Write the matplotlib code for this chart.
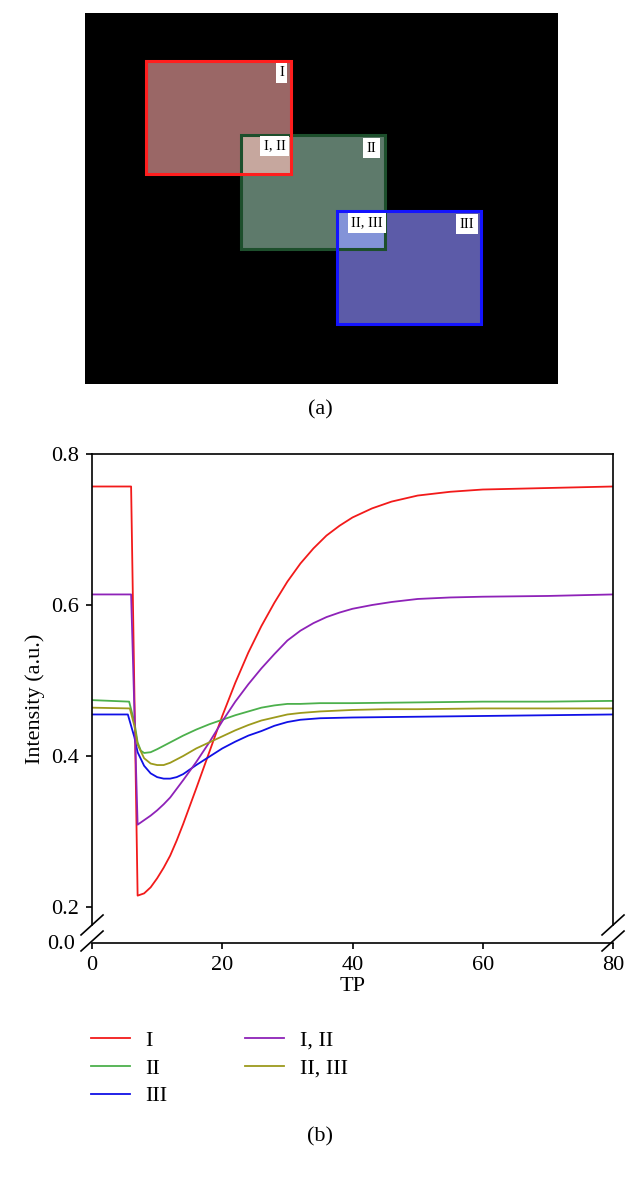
import matplotlib
matplotlib.use('Agg')
import matplotlib.pyplot as plt
from matplotlib.patches import Rectangle

plt.rcParams['font.family'] = ['Liberation Serif', 'DejaVu Serif']

# ---- panel (a): regions of interest (pixel coords of the picture) ----
roi_names = ['I', 'II', 'III']
roi_boxes = [(146, 61, 145, 113), (241, 135, 144, 114), (337, 211, 144, 113)]  # x, y, w, h
roi_fill = ['#9a6766', '#5e7a6b', '#5c5ba8']
roi_edge = ['#ff1e1e', '#1d4f2c', '#1414ff']
overlap_boxes = [(241, 135, 50, 39), (337, 211, 48, 38)]
overlap_fill = ['#c6a79e', '#8393d8']
tag_text = ['I', 'I, II', 'II', 'II, III', 'III']
tag_pos = [(281.5, 72.5), (274.5, 146), (371.5, 148), (367, 222.5), (467, 224)]

# ---- panel (b): intensity vs TP ----
x_I = [0, 6, 7, 8, 9, 10, 11, 12, 13, 14, 16, 18, 20, 22, 24, 26, 28, 30, 32, 34, 36, 38, 40, 43, 46, 50, 55, 60, 70, 80]
y_I = [0.757, 0.757, 0.215, 0.218, 0.226, 0.238, 0.252, 0.268, 0.288, 0.310, 0.357, 0.405, 0.453, 0.497, 0.537,
       0.572, 0.603, 0.631, 0.655, 0.675, 0.692, 0.705, 0.716, 0.728, 0.737, 0.745, 0.750, 0.753, 0.755, 0.757]

x_II = [0, 5.7, 6.5, 7, 7.5, 8, 9, 10, 12, 14, 16, 18, 20, 22, 24, 26, 28, 30, 32, 35, 40, 50, 60, 70, 80]
y_II = [0.474, 0.472, 0.445, 0.418, 0.407, 0.404, 0.405, 0.409, 0.418, 0.427, 0.435, 0.442, 0.448, 0.454, 0.459,
        0.464, 0.467, 0.469, 0.469, 0.470, 0.470, 0.471, 0.472, 0.472, 0.473]

x_III = [0, 5.5, 6.5, 7, 8, 9, 10, 11, 12, 13, 14, 16, 18, 20, 22, 24, 26, 28, 30, 32, 35, 40, 50, 60, 70, 80]
y_III = [0.455, 0.455, 0.425, 0.405, 0.387, 0.377, 0.372, 0.370, 0.370, 0.372, 0.376, 0.388, 0.399, 0.410, 0.419,
         0.427, 0.433, 0.440, 0.445, 0.448, 0.450, 0.451, 0.452, 0.453, 0.454, 0.455]

x_I_II = [0, 6, 7, 8, 9, 10, 11, 12, 14, 16, 18, 20, 22, 24, 26, 28, 30, 32, 34, 36, 38, 40, 43, 46, 50, 55, 60, 70, 80]
y_I_II = [0.614, 0.614, 0.309, 0.315, 0.321, 0.328, 0.336, 0.345, 0.368, 0.392, 0.418, 0.446, 0.472, 0.495, 0.516,
          0.535, 0.553, 0.566, 0.576, 0.584, 0.590, 0.595, 0.600, 0.604, 0.608, 0.610, 0.611, 0.612, 0.614]

x_II_III = [0, 5.8, 6.5, 7, 8, 9, 10, 11, 12, 14, 16, 18, 20, 22, 24, 26, 28, 30, 32, 35, 40, 45, 50, 60, 70, 80]
y_II_III = [0.464, 0.463, 0.440, 0.415, 0.397, 0.390, 0.388, 0.388, 0.391, 0.400, 0.410, 0.418, 0.426, 0.434, 0.441,
            0.447, 0.451, 0.455, 0.457, 0.459, 0.461, 0.462, 0.462, 0.463, 0.463, 0.463]

series = [('I', x_I, y_I, '#f21a1a'),
          ('II', x_II, y_II, '#4cb04c'),
          ('III', x_III, y_III, '#1010e6'),
          ('I, II', x_I_II, y_I_II, '#8e22b8'),
          ('II, III', x_II_III, y_II_III, '#9c9a1c')]

xticks = [0, 20, 40, 60, 80]
yticks = [0.2, 0.4, 0.6, 0.8]

FS = 16

fig = plt.figure(figsize=(6.44, 11.83), dpi=100)

# panel (a)
axa = fig.add_axes([0.132, 0.6754, 0.7345, 0.3136])
axa.set_facecolor('black')
axa.set_xlim(85, 558)
axa.set_ylim(384, 13)
for (x, y, w, h), fc in zip(roi_boxes, roi_fill):
    axa.add_patch(Rectangle((x, y), w, h, facecolor=fc, edgecolor='none'))
for (x, y, w, h), fc in zip(overlap_boxes, overlap_fill):
    axa.add_patch(Rectangle((x, y), w, h, facecolor=fc, edgecolor='none'))
for i in [1, 0, 2]:
    x, y, w, h = roi_boxes[i]
    axa.add_patch(Rectangle((x, y), w, h, facecolor='none', edgecolor=roi_edge[i], lw=2.2))
for t, (x, y) in zip(tag_text, tag_pos):
    axa.text(x, y, t, ha='center', va='center', fontsize=10.5,
             bbox=dict(facecolor='white', edgecolor='none', pad=2.5))
axa.set_xticks([])
axa.set_yticks([])
for s in axa.spines.values():
    s.set_visible(False)
fig.text(0.497, 0.6534, '(a)', ha='center', va='center', fontsize=FS)

# panel (b)
ax = fig.add_axes([0.1429, 0.2029, 0.809, 0.4133])
for name, xs, ys, c in series:
    ax.plot(xs, ys, color=c, lw=1.3, label=name)
ax.set_xlim(0, 80)
ax.set_ylim(0.1523, 0.8)
ax.set_xticks(xticks)
ax.set_yticks(yticks)
ax.set_yticklabels(['%.1f' % v for v in yticks])
ax.tick_params(direction='out', length=4.5, width=1.2, labelsize=FS, pad=5, top=False, right=False)
for s in ax.spines.values():
    s.set_linewidth(1.2)
ax.spines['left'].set_bounds(0.176, 0.8)
ax.spines['right'].set_bounds(0.176, 0.8)
ax.text(-0.0326, -0.004, '0.0', transform=ax.transAxes, ha='right', va='center', fontsize=FS)
ax.set_xlabel('TP', fontsize=FS, labelpad=1)
ax.set_ylabel('Intensity (a.u.)', fontsize=FS, labelpad=4)

# axis break marks
dx, dy = 0.0211, 0.0204
for xc in (0, 1):
    for yc in (0.0368, 0.004):
        ax.plot([xc - dx, xc + dx], [yc - dy, yc + dy], transform=ax.transAxes,
                color='black', lw=1.2, clip_on=False)

ax.legend(loc='upper left', bbox_to_anchor=(0.1413, 0.1290), bbox_transform=fig.transFigure,
          ncol=2, frameon=False, fontsize=FS, handlelength=1.75, handletextpad=0.7,
          columnspacing=3.5, labelspacing=0.32, borderpad=0, borderaxespad=0)

fig.text(0.497, 0.0389, '(b)', ha='center', va='center', fontsize=FS)

fig.savefig('out.png', dpi=100)
